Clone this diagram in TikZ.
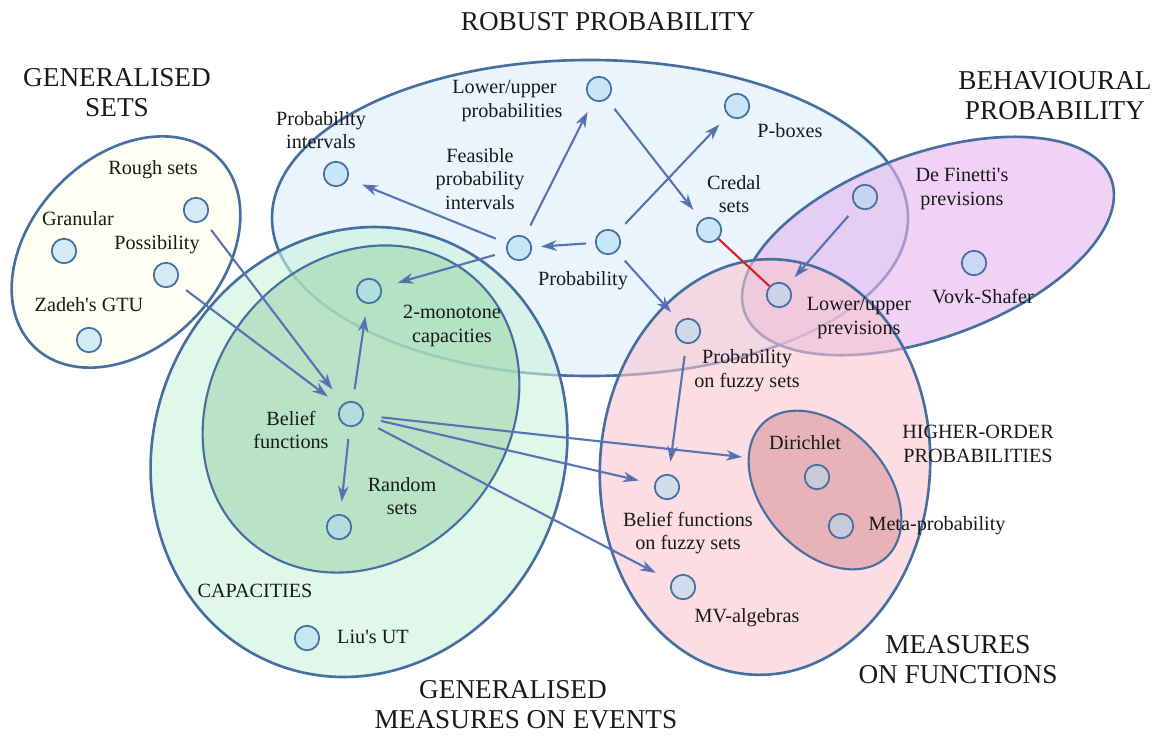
\documentclass[tikz,border=0pt]{standalone}
\usepackage{fontspec}
\setmainfont{Liberation Serif}
\usetikzlibrary{arrows.meta}

\definecolor{edgeblue}{RGB}{88,114,178}
\definecolor{rimblue}{RGB}{70,110,160}
\definecolor{dotfill}{RGB}{175,220,245}
\definecolor{robfill}{RGB}{220,237,252}
\definecolor{behfill}{RGB}{228,180,237}
\definecolor{capfill}{RGB}{202,243,220}
\definecolor{belfill}{RGB}{158,215,174}
\definecolor{funfill}{RGB}{248,198,208}
\definecolor{hopfill}{RGB}{219,151,155}
\definecolor{setfill}{RGB}{253,253,233}
\definecolor{linkred}{RGB}{220,30,40}

\tikzstyle{ptn}=[shape=circle,
                draw=rimblue,
                fill=dotfill,
                fill opacity=0.55,
                text opacity=1,
                line width=1pt,
                minimum size=0.49cm,
                inner sep=0pt]
\tikzstyle{lbl}=[align=center,
                font=\fontsize{11.5}{13.5}\selectfont,
                text=black!90,
                inner sep=0pt]
\tikzstyle{hdr}=[align=center,
                font=\fontsize{15.5}{17}\selectfont,
                text=black!90,
                inner sep=0pt]
\tikzstyle{rgn}=[draw=rimblue,
                line width=1.5pt,
                fill opacity=0.6]
\tikzstyle{arw}=[draw=edgeblue,
                line width=1.2pt,
                -{Stealth[length=9pt,width=6pt,inset=2.8pt]},
                shorten <=6.8pt,
                shorten >=7pt]

\begin{document}
\begin{tikzpicture}[x=0.02cm,y=-0.02cm]
\useasboundingbox (0,0) rectangle (1158,734);

% regions
\draw[rgn,fill=robfill] (590,218) ellipse [x radius=318, y radius=158];
\draw[rgn,fill=behfill,rotate around={20:(928,246)}] (928,246) ellipse [x radius=195, y radius=92];
\draw[rgn,fill=capfill,rotate around={-22:(359,452)}] (359,452) ellipse [x radius=205, y radius=228];
\draw[rgn,fill=belfill,line width=1.2pt,rotate around={-39:(361,409)}] (361,409) ellipse [x radius=148, y radius=173];
\draw[rgn,fill=funfill,rotate around={-4:(765,467)}] (765,467) ellipse [x radius=165, y radius=208];
\draw[rgn,fill=hopfill,line width=1.2pt,rotate around={-48:(825,490)}] (825,490) ellipse [x radius=91, y radius=62];
\draw[rgn,fill=setfill,rotate around={46:(126,252)}] (126,252) ellipse [x radius=132, y radius=95];

% generalised sets
\node[ptn] (rough) at (196,210) {};
\node[ptn] (gran)  at (64,251)  {};
\node[ptn] (poss)  at (166,275) {};
\node[ptn] (gtu)   at (89,340)  {};

% robust probability
\node[ptn] (lup)    at (599,89)  {};
\node[ptn] (pint)   at (336,174) {};
\node[ptn] (fpi)    at (519,248) {};
\node[ptn] (prob)   at (608,242) {};
\node[ptn] (pbox)   at (737,106) {};
\node[ptn] (credal) at (709,230) {};

% capacities
\node[ptn] (mono)   at (369,291) {};
\node[ptn] (belief) at (351,414) {};
\node[ptn] (rset)   at (339,527) {};
\node[ptn] (liu)    at (307,638) {};

% behavioural probability
\node[ptn] (finetti) at (865,197) {};
\node[ptn] (vovk)    at (974,263) {};
\node[ptn] (lupr)    at (779,295) {};

% measures on functions
\node[ptn] (pfuzzy) at (688,331) {};
\node[ptn] (bfuzzy) at (667,487) {};
\node[ptn] (mv)     at (683,587) {};
\node[ptn] (dir)    at (817,477) {};
\node[ptn] (meta)   at (841,526) {};
\coordinate (hopw) at (742,457);

% labels
\node[lbl] (t-rough)   at (153,170) {Rough sets};
\node[lbl] (t-gran)    at (78,219)  {Granular};
\node[lbl] (t-poss)    at (157,245) {Possibility};
\node[lbl] (t-gtu)     at (89,305)  {Zadeh\textquotesingle s GTU};
\node[lbl] (t-lup)     at (512,101) {Lower/upper\rule{0.3cm}{0pt}\\probabilities};
\node[lbl] (t-pint)    at (321,130) {Probability\\intervals};
\node[lbl] (t-fpi)     at (480,179) {Feasible\\probability\\intervals};
\node[lbl] (t-prob)    at (583,281) {Probability};
\node[lbl] (t-pbox)    at (790,131) {P-boxes};
\node[lbl] (t-credal)  at (734,194) {Credal\\sets};
\node[lbl] (t-mono)    at (452,326) {2-monotone\\capacities};
\node[lbl] (t-belief)  at (291,430) {Belief\\functions};
\node[lbl] (t-rset)    at (402,496) {Random\\sets};
\node[lbl] (t-cap)     at (255,591) {CAPACITIES};
\node[lbl] (t-liu)     at (373,637) {Liu\textquotesingle s UT};
\node[lbl] (t-finetti) at (962,189) {De Finetti\textquotesingle s\\previsions};
\node[lbl] (t-vovk)    at (983,297) {Vovk-Shafer};
\node[lbl] (t-lupr)    at (859,318) {Lower/upper\\previsions};
\node[lbl] (t-pfuzzy)  at (747,371) {Probability\\on fuzzy sets};
\node[lbl] (t-bfuzzy)  at (688,533) {Belief functions\\on fuzzy sets};
\node[lbl] (t-mv)      at (747,618) {MV-algebras};
\node[lbl] (t-dir)     at (805,443) {Dirichlet};
\node[lbl] (t-meta)    at (937,526) {Meta-probability};
\node[lbl] (t-hop)     at (978,444) {HIGHER-ORDER\\PROBABILITIES};

% titles
\node[hdr] (h-rob)  at (608,22)  {ROBUST PROBABILITY};
\node[hdr] (h-sets) at (117,93)  {GENERALISED\\SETS};
\node[hdr] (h-beh)  at (1055,96) {BEHAVIOURAL\\PROBABILITY};
\node[hdr] (h-ev)   at (526,705) {GENERALISED\rule{0.52cm}{0pt}\\MEASURES ON EVENTS};
\node[hdr] (h-fun)  at (958,660) {MEASURES\\ON FUNCTIONS};

% paths
\path[arw] (rough) edge[shorten >=10pt] (belief)
           (poss) edge[shorten >=9pt] (belief)
           (belief) edge (mono)
           (belief) edge (rset)
           (belief) edge[shorten <=10pt,shorten >=0pt] (hopw)
           (belief) edge[shorten <=10pt,shorten >=9pt] (bfuzzy)
           (belief) edge[shorten <=10pt,shorten >=10pt] (mv);
\path[arw] (fpi) edge[shorten >=8.5pt] (pint)
           (fpi) edge (lup)
           (fpi) edge[shorten >=9.5pt] (mono)
           (prob) edge[shorten <=5pt,shorten >=5pt] (fpi)
           (prob) edge (pbox)
           (prob) edge (pfuzzy)
           (lup) edge (credal)
           (pfuzzy) edge (bfuzzy)
           (finetti) edge[shorten >=6pt] (lupr);
\draw[linkred,line width=1.2pt] (credal) -- (lupr);
\end{tikzpicture}
\end{document}
